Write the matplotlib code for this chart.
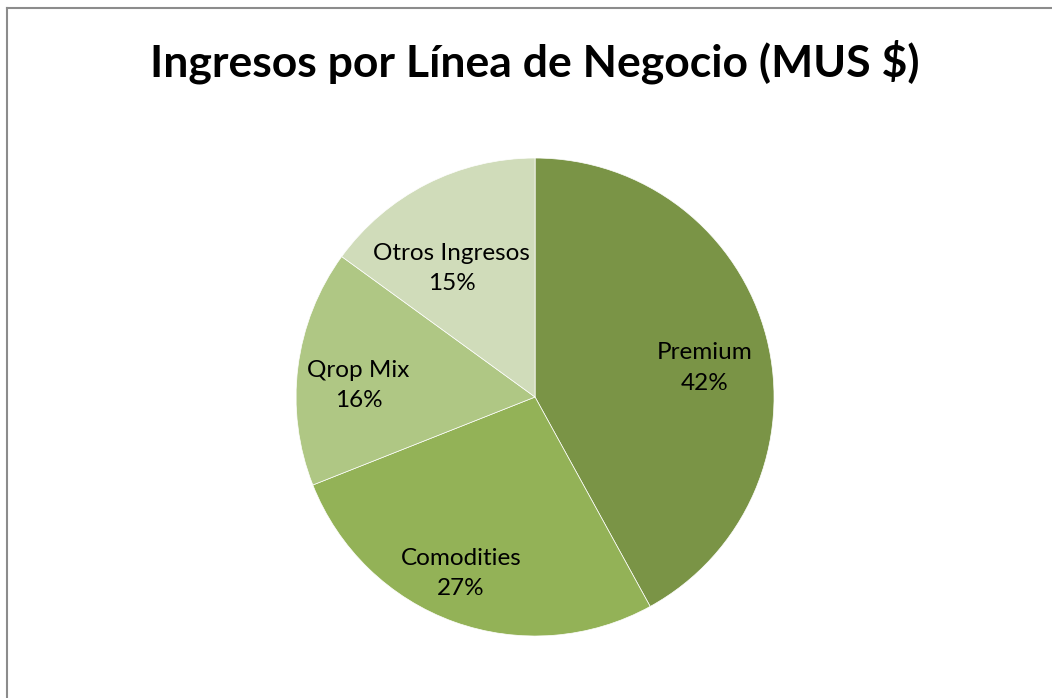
import numpy as np
import matplotlib.pyplot as plt
from matplotlib.lines import Line2D

categories = ["Premium", "Comodities", "Qrop Mix", "Otros Ingresos"]
shares = [42, 27, 16, 15]
colors = ["#7A9446", "#93B257", "#AFC784", "#D0DCBA"]

# label placement tweaks (radial fraction, angle offset in degrees)
label_dist = [0.72, 0.80, 0.74, 0.64]
label_shift = [-4.7, -3.0, 3.5, 6.0]

plt.rcParams["font.family"] = ["Lato", "DejaVu Sans"]

fig = plt.figure(figsize=(10.52, 6.98), dpi=100)

# chart border (left and top edges visible)
fig.add_artist(Line2D([6.5 / 1052, 6.5 / 1052], [0, 1 - 7.5 / 698],
                      transform=fig.transFigure, color="#8c8c8c", linewidth=1.5))
fig.add_artist(Line2D([6.5 / 1052, 1], [1 - 7.5 / 698, 1 - 7.5 / 698],
                      transform=fig.transFigure, color="#8c8c8c", linewidth=1.5))

fig.text(535 / 1052, 1 - 62 / 698, "Ingresos por Línea de Negocio (MUS $)",
         ha="center", va="center", fontsize=32, fontweight="bold")

ax = fig.add_axes([0.2814, 0.0888, 0.4544, 0.6848])
labels = [f"{c}\n{s}%" for c, s in zip(categories, shares)]
wedges, texts = ax.pie(shares, colors=colors, startangle=90, counterclock=False,
                       labels=labels, labeldistance=0.72,
                       wedgeprops=dict(linewidth=0.5, edgecolor="white"),
                       textprops=dict(fontsize=17.5, ha="center", va="center",
                                      linespacing=1.55))
for w, t, d, s in zip(wedges, texts, label_dist, label_shift):
    mid = np.deg2rad((w.theta1 + w.theta2) / 2 + s)
    t.set_position((d * np.cos(mid), d * np.sin(mid)))
ax.set_xlim(-1, 1)
ax.set_ylim(-1, 1)
ax.set_aspect("equal")

fig.savefig("out.png", dpi=100)
